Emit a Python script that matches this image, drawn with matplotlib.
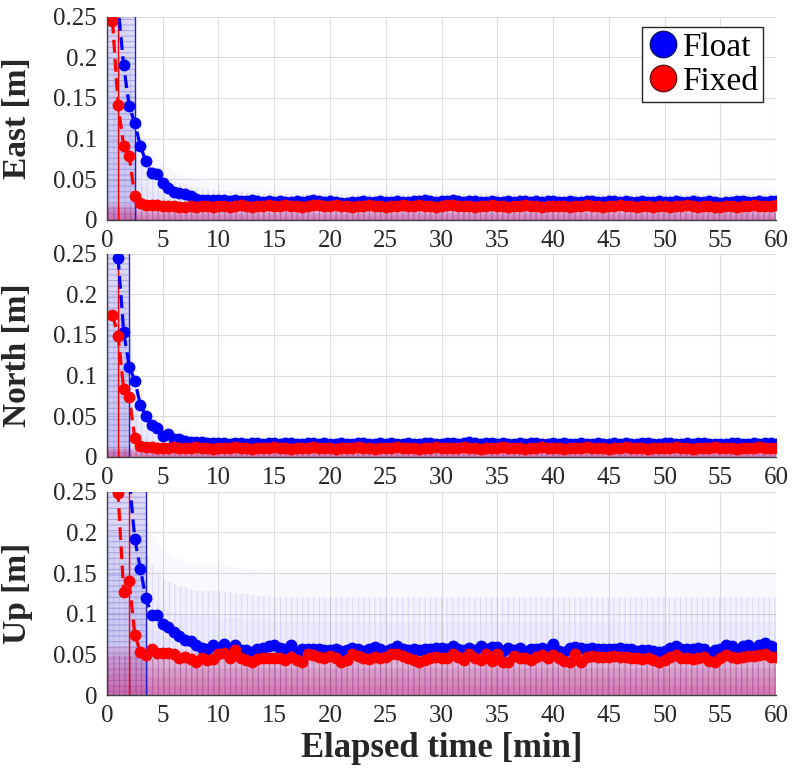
import numpy as np
import matplotlib.pyplot as plt
from matplotlib.lines import Line2D

plt.rcParams['font.family'] = ['Liberation Serif', 'DejaVu Serif']
plt.rcParams['hatch.linewidth'] = 0.8

# averaged error curves, one epoch every 30 s
minutes = np.arange(0.5, 60.01, 0.5)

east_float = [
    0.400, 0.262, 0.190, 0.140, 0.119, 0.091, 0.072, 0.058, 0.056, 0.046,
    0.039, 0.034, 0.033, 0.032, 0.029, 0.026, 0.025, 0.025, 0.024, 0.024,
    0.024, 0.023, 0.024, 0.023, 0.023, 0.024, 0.023, 0.022, 0.023, 0.022,
    0.023, 0.022, 0.022, 0.023, 0.022, 0.023, 0.024, 0.023, 0.022, 0.023,
    0.022, 0.021, 0.021, 0.022, 0.022, 0.023, 0.022, 0.022, 0.023, 0.022,
    0.022, 0.023, 0.022, 0.022, 0.023, 0.023, 0.024, 0.023, 0.022, 0.023,
    0.023, 0.024, 0.023, 0.022, 0.023, 0.023, 0.022, 0.022, 0.023, 0.022,
    0.022, 0.023, 0.022, 0.023, 0.023, 0.022, 0.023, 0.022, 0.023, 0.023,
    0.022, 0.022, 0.023, 0.022, 0.022, 0.023, 0.023, 0.022, 0.022, 0.023,
    0.023, 0.022, 0.023, 0.022, 0.022, 0.023, 0.022, 0.022, 0.023, 0.022,
    0.022, 0.023, 0.022, 0.022, 0.023, 0.022, 0.022, 0.023, 0.022, 0.021,
    0.022, 0.022, 0.023, 0.023, 0.022, 0.022, 0.023, 0.022, 0.023, 0.023,
]
east_fixed = [
    0.245, 0.142, 0.091, 0.079, 0.029, 0.021, 0.019, 0.018, 0.018, 0.017,
    0.017, 0.017, 0.016, 0.016, 0.017, 0.016, 0.017, 0.017, 0.016, 0.017,
    0.017, 0.016, 0.017, 0.018, 0.017, 0.016, 0.017, 0.017, 0.018, 0.017,
    0.017, 0.018, 0.017, 0.017, 0.016, 0.017, 0.018, 0.018, 0.017, 0.017,
    0.018, 0.017, 0.017, 0.016, 0.017, 0.017, 0.018, 0.017, 0.017, 0.016,
    0.017, 0.017, 0.018, 0.017, 0.017, 0.018, 0.017, 0.017, 0.016, 0.017,
    0.018, 0.018, 0.017, 0.017, 0.017, 0.016, 0.017, 0.017, 0.018, 0.017,
    0.017, 0.016, 0.017, 0.017, 0.018, 0.017, 0.017, 0.016, 0.017, 0.017,
    0.017, 0.017, 0.016, 0.017, 0.017, 0.018, 0.017, 0.017, 0.016, 0.017,
    0.017, 0.018, 0.017, 0.017, 0.016, 0.017, 0.017, 0.016, 0.017, 0.017,
    0.016, 0.017, 0.017, 0.018, 0.017, 0.016, 0.017, 0.017, 0.016, 0.016,
    0.017, 0.017, 0.016, 0.017, 0.017, 0.018, 0.017, 0.017, 0.017, 0.018,
]
north_float = [
    0.340, 0.245, 0.154, 0.111, 0.094, 0.064, 0.050, 0.039, 0.035, 0.026,
    0.028, 0.022, 0.022, 0.020, 0.019, 0.018, 0.018, 0.017, 0.017, 0.017,
    0.017, 0.016, 0.017, 0.017, 0.016, 0.017, 0.017, 0.016, 0.017, 0.017,
    0.016, 0.017, 0.017, 0.016, 0.016, 0.017, 0.017, 0.016, 0.017, 0.016,
    0.016, 0.017, 0.016, 0.016, 0.017, 0.017, 0.016, 0.016, 0.017, 0.016,
    0.017, 0.016, 0.016, 0.017, 0.016, 0.016, 0.017, 0.017, 0.016, 0.016,
    0.017, 0.017, 0.016, 0.017, 0.018, 0.017, 0.016, 0.017, 0.017, 0.016,
    0.017, 0.016, 0.016, 0.017, 0.016, 0.017, 0.017, 0.016, 0.016, 0.017,
    0.016, 0.017, 0.016, 0.016, 0.017, 0.016, 0.016, 0.017, 0.016, 0.016,
    0.017, 0.016, 0.017, 0.016, 0.016, 0.017, 0.017, 0.016, 0.016, 0.017,
    0.017, 0.016, 0.016, 0.017, 0.016, 0.017, 0.017, 0.016, 0.016, 0.016,
    0.016, 0.017, 0.017, 0.016, 0.016, 0.017, 0.016, 0.017, 0.017, 0.016,
]
north_fixed = [
    0.175, 0.149, 0.084, 0.074, 0.023, 0.013, 0.012, 0.012, 0.011, 0.011,
    0.011, 0.012, 0.011, 0.011, 0.011, 0.012, 0.011, 0.011, 0.010, 0.011,
    0.011, 0.011, 0.012, 0.011, 0.011, 0.010, 0.011, 0.011, 0.011, 0.012,
    0.011, 0.011, 0.010, 0.011, 0.011, 0.011, 0.012, 0.011, 0.011, 0.011,
    0.010, 0.011, 0.011, 0.011, 0.012, 0.011, 0.011, 0.010, 0.011, 0.011,
    0.011, 0.012, 0.011, 0.011, 0.011, 0.010, 0.011, 0.011, 0.012, 0.011,
    0.011, 0.011, 0.011, 0.012, 0.011, 0.011, 0.010, 0.011, 0.011, 0.011,
    0.012, 0.011, 0.011, 0.011, 0.010, 0.011, 0.011, 0.012, 0.011, 0.011,
    0.011, 0.010, 0.011, 0.011, 0.011, 0.012, 0.011, 0.011, 0.011, 0.010,
    0.011, 0.011, 0.012, 0.011, 0.011, 0.011, 0.010, 0.011, 0.011, 0.011,
    0.011, 0.012, 0.011, 0.011, 0.010, 0.011, 0.011, 0.011, 0.012, 0.011,
    0.011, 0.011, 0.010, 0.011, 0.011, 0.011, 0.012, 0.011, 0.011, 0.011,
]
up_float = [
    0.450, 0.360, 0.300, 0.265, 0.192, 0.155, 0.119, 0.099, 0.099, 0.087,
    0.084, 0.077, 0.072, 0.068, 0.066, 0.062, 0.058, 0.057, 0.061, 0.058,
    0.063, 0.056, 0.061, 0.055, 0.055, 0.053, 0.056, 0.058, 0.060, 0.061,
    0.058, 0.056, 0.061, 0.052, 0.056, 0.056, 0.057, 0.056, 0.055, 0.055,
    0.057, 0.054, 0.055, 0.058, 0.056, 0.054, 0.056, 0.059, 0.056, 0.054,
    0.057, 0.060, 0.056, 0.055, 0.056, 0.055, 0.056, 0.057, 0.058, 0.058,
    0.057, 0.060, 0.057, 0.055, 0.058, 0.055, 0.060, 0.056, 0.059, 0.059,
    0.054, 0.058, 0.055, 0.058, 0.054, 0.056, 0.057, 0.058, 0.057, 0.063,
    0.054, 0.053, 0.058, 0.059, 0.058, 0.057, 0.058, 0.057, 0.056, 0.056,
    0.057, 0.058, 0.056, 0.057, 0.054, 0.055, 0.055, 0.054, 0.053, 0.054,
    0.058, 0.060, 0.057, 0.056, 0.056, 0.058, 0.057, 0.052, 0.055, 0.056,
    0.061, 0.060, 0.054, 0.060, 0.061, 0.056, 0.062, 0.064, 0.060, 0.058,
]
up_fixed = [
    0.300, 0.248, 0.127, 0.140, 0.074, 0.053, 0.049, 0.057, 0.052, 0.052,
    0.052, 0.050, 0.046, 0.047, 0.044, 0.041, 0.045, 0.043, 0.044, 0.050,
    0.052, 0.045, 0.055, 0.045, 0.043, 0.041, 0.044, 0.045, 0.046, 0.045,
    0.045, 0.043, 0.047, 0.043, 0.041, 0.051, 0.049, 0.047, 0.045, 0.048,
    0.045, 0.041, 0.043, 0.050, 0.048, 0.045, 0.044, 0.047, 0.045, 0.047,
    0.051, 0.050, 0.048, 0.046, 0.043, 0.041, 0.043, 0.045, 0.047, 0.045,
    0.046, 0.051, 0.047, 0.043, 0.051, 0.046, 0.043, 0.051, 0.042, 0.051,
    0.041, 0.041, 0.048, 0.046, 0.045, 0.043, 0.047, 0.049, 0.045, 0.049,
    0.045, 0.042, 0.041, 0.051, 0.041, 0.047, 0.048, 0.047, 0.047, 0.047,
    0.048, 0.047, 0.047, 0.045, 0.046, 0.044, 0.045, 0.043, 0.041, 0.043,
    0.047, 0.049, 0.046, 0.045, 0.044, 0.045, 0.047, 0.042, 0.041, 0.045,
    0.049, 0.047, 0.045, 0.047, 0.048, 0.048, 0.049, 0.051, 0.047, 0.047,
]

# convergence times (min) marked by vertical lines
conv_float = [2.5, 2.0, 3.5]
conv_fixed = [1.0, 1.0, 2.0]

# envelopes of the individual runs drawn faintly behind the means
bg_minutes = [0, 0.5, 1, 1.5, 2, 2.5, 3, 3.5, 4, 5, 6, 8, 10, 15, 20, 25, 30, 35, 40, 45, 50, 55, 60]
east_spread = [0.25, 0.25, 0.25, 0.25, 0.25, 0.16, 0.12, 0.10, 0.085, 0.07, 0.06, 0.05, 0.045,
               0.04, 0.04, 0.04, 0.04, 0.04, 0.04, 0.04, 0.04, 0.04, 0.04]
east_dense = [0.02, 0.02, 0.02, 0.02, 0.02, 0.018, 0.016, 0.015, 0.015, 0.015, 0.015, 0.015, 0.015,
              0.015, 0.015, 0.015, 0.015, 0.015, 0.015, 0.015, 0.015, 0.015, 0.015]
north_spread = [0.25, 0.25, 0.25, 0.25, 0.20, 0.12, 0.08, 0.06, 0.05, 0.04, 0.035, 0.03, 0.028,
                0.026, 0.026, 0.026, 0.026, 0.026, 0.026, 0.026, 0.026, 0.026, 0.026]
north_dense = [0.012, 0.012, 0.012, 0.012, 0.012, 0.011, 0.010, 0.010, 0.010, 0.010, 0.010, 0.010, 0.010,
               0.010, 0.010, 0.010, 0.010, 0.010, 0.010, 0.010, 0.010, 0.010, 0.010]
up_spread = [0.25, 0.25, 0.25, 0.25, 0.25, 0.25, 0.24, 0.22, 0.20, 0.18, 0.17, 0.16, 0.16,
             0.15, 0.15, 0.15, 0.15, 0.15, 0.15, 0.15, 0.15, 0.15, 0.15]
up_dense = [0.06, 0.06, 0.06, 0.06, 0.06, 0.06, 0.06, 0.058, 0.056, 0.055, 0.055, 0.055, 0.055,
            0.055, 0.055, 0.055, 0.055, 0.055, 0.055, 0.055, 0.055, 0.055, 0.055]

# the first minutes, before convergence, where the runs fill the whole range
early_minutes = [0, 0.5, 1, 1.5, 2, 2.5, 3, 3.5, 4]
east_early = [0.25, 0.25, 0.25, 0.25, 0.25, 0, 0, 0, 0]
north_early = [0.25, 0.25, 0.25, 0.25, 0, 0, 0, 0, 0]
up_early = [0.25, 0.25, 0.25, 0.25, 0.25, 0.25, 0.25, 0, 0]

panel_names = ['East [m]', 'North [m]', 'Up [m]']
float_series = [east_float, north_float, up_float]
fixed_series = [east_fixed, north_fixed, up_fixed]
spread_series = [east_spread, north_spread, up_spread]
dense_series = [east_dense, north_dense, up_dense]
early_series = [east_early, north_early, up_early]

y_ticks = [0, 0.05, 0.1, 0.15, 0.2, 0.25]
y_tick_labels = ['0', '0.05', '0.1', '0.15', '0.2', '0.25']
x_ticks = list(range(0, 61, 5))


def soft_band(ax, top, rgb, alpha, z, hatch_rgba=None):
    # stacked translucent layers so the band fades out towards its top
    top = np.array(top)
    for frac in [1.0, 0.8, 0.6, 0.4, 0.2]:
        ax.fill_between(bg_minutes, 0, top * frac, facecolor=rgb + (alpha,), lw=0, zorder=z)
    if hatch_rgba is not None:
        ax.fill_between(bg_minutes, 0, top * 0.8, facecolor='none', edgecolor=hatch_rgba,
                        hatch='|||', lw=0, zorder=z)


fig = plt.figure(figsize=(7.92, 7.79), dpi=100)
bottoms = [0.7176, 0.4134, 0.1078]

for i in range(3):
    ax = fig.add_axes([0.135, bottoms[i], 0.845, 0.261])

    ax.fill_between(early_minutes, 0, early_series[i], step='post',
                    facecolor=(0.42, 0.38, 0.85, 0.22), edgecolor=(0.3, 0.25, 0.75, 0.3),
                    hatch='---', lw=0, zorder=0.9)
    soft_band(ax, spread_series[i], (0.45, 0.42, 0.92), 0.045, 1.0, hatch_rgba=(0.5, 0.45, 0.9, 0.18))
    soft_band(ax, dense_series[i], (0.80, 0.22, 0.52), 0.16, 1.5, hatch_rgba=(0.55, 0.15, 0.45, 0.35))

    ax.axvline(conv_fixed[i], color='#ff0000', lw=1.0, zorder=2)
    ax.axvline(conv_float[i], color='#2020d0', lw=1.0, zorder=2)

    ax.plot(minutes, float_series[i], '--o', color='#0000ff', lw=2.3, ms=7.5,
            dashes=(4, 2), zorder=3)
    ax.plot(minutes, fixed_series[i], '--o', color='#ff0000', lw=2.3, ms=7.5,
            dashes=(4, 2), zorder=4)

    ax.set_xlim(0, 60)
    ax.set_ylim(0, 0.25)
    ax.set_xticks(x_ticks)
    ax.set_yticks(y_ticks)
    ax.set_yticklabels(y_tick_labels)
    ax.tick_params(labelsize=18, colors='#262626', length=0, pad=7)
    ax.grid(True, color='#dcdcdc', lw=0.8)
    ax.set_axisbelow(True)
    for side in ['top', 'right']:
        ax.spines[side].set_visible(False)
    for side in ['left', 'bottom']:
        ax.spines[side].set_color('#404040')
        ax.spines[side].set_linewidth(1.0)
        ax.spines[side].set_zorder(5)
    ax.set_ylabel(panel_names[i], fontsize=24, fontweight='bold', color='#262626')
    ax.yaxis.set_label_coords(-0.11, 0.5)

    if i == 0:
        handles = [
            Line2D([], [], ls='none', marker='o', ms=19, mfc='#0000ff', mec='#10106a', mew=1.0),
            Line2D([], [], ls='none', marker='o', ms=19, mfc='#ff0000', mec='#6a1010', mew=1.0),
        ]
        leg = ax.legend(handles, ['Float', 'Fixed'], loc='upper right',
                        bbox_to_anchor=(0.98, 0.947), fontsize=24, frameon=True,
                        fancybox=False, edgecolor='#262626', framealpha=1,
                        handlelength=1.0, handletextpad=0.05, borderpad=0.15,
                        labelspacing=0.1, borderaxespad=0)
        leg.get_frame().set_linewidth(1.0)
        leg.set_zorder(6)
    if i == 2:
        ax.set_xlabel('Elapsed time [min]', fontsize=25, fontweight='bold', color='#262626',
                      labelpad=4)

fig.savefig('out.png', dpi=100)
